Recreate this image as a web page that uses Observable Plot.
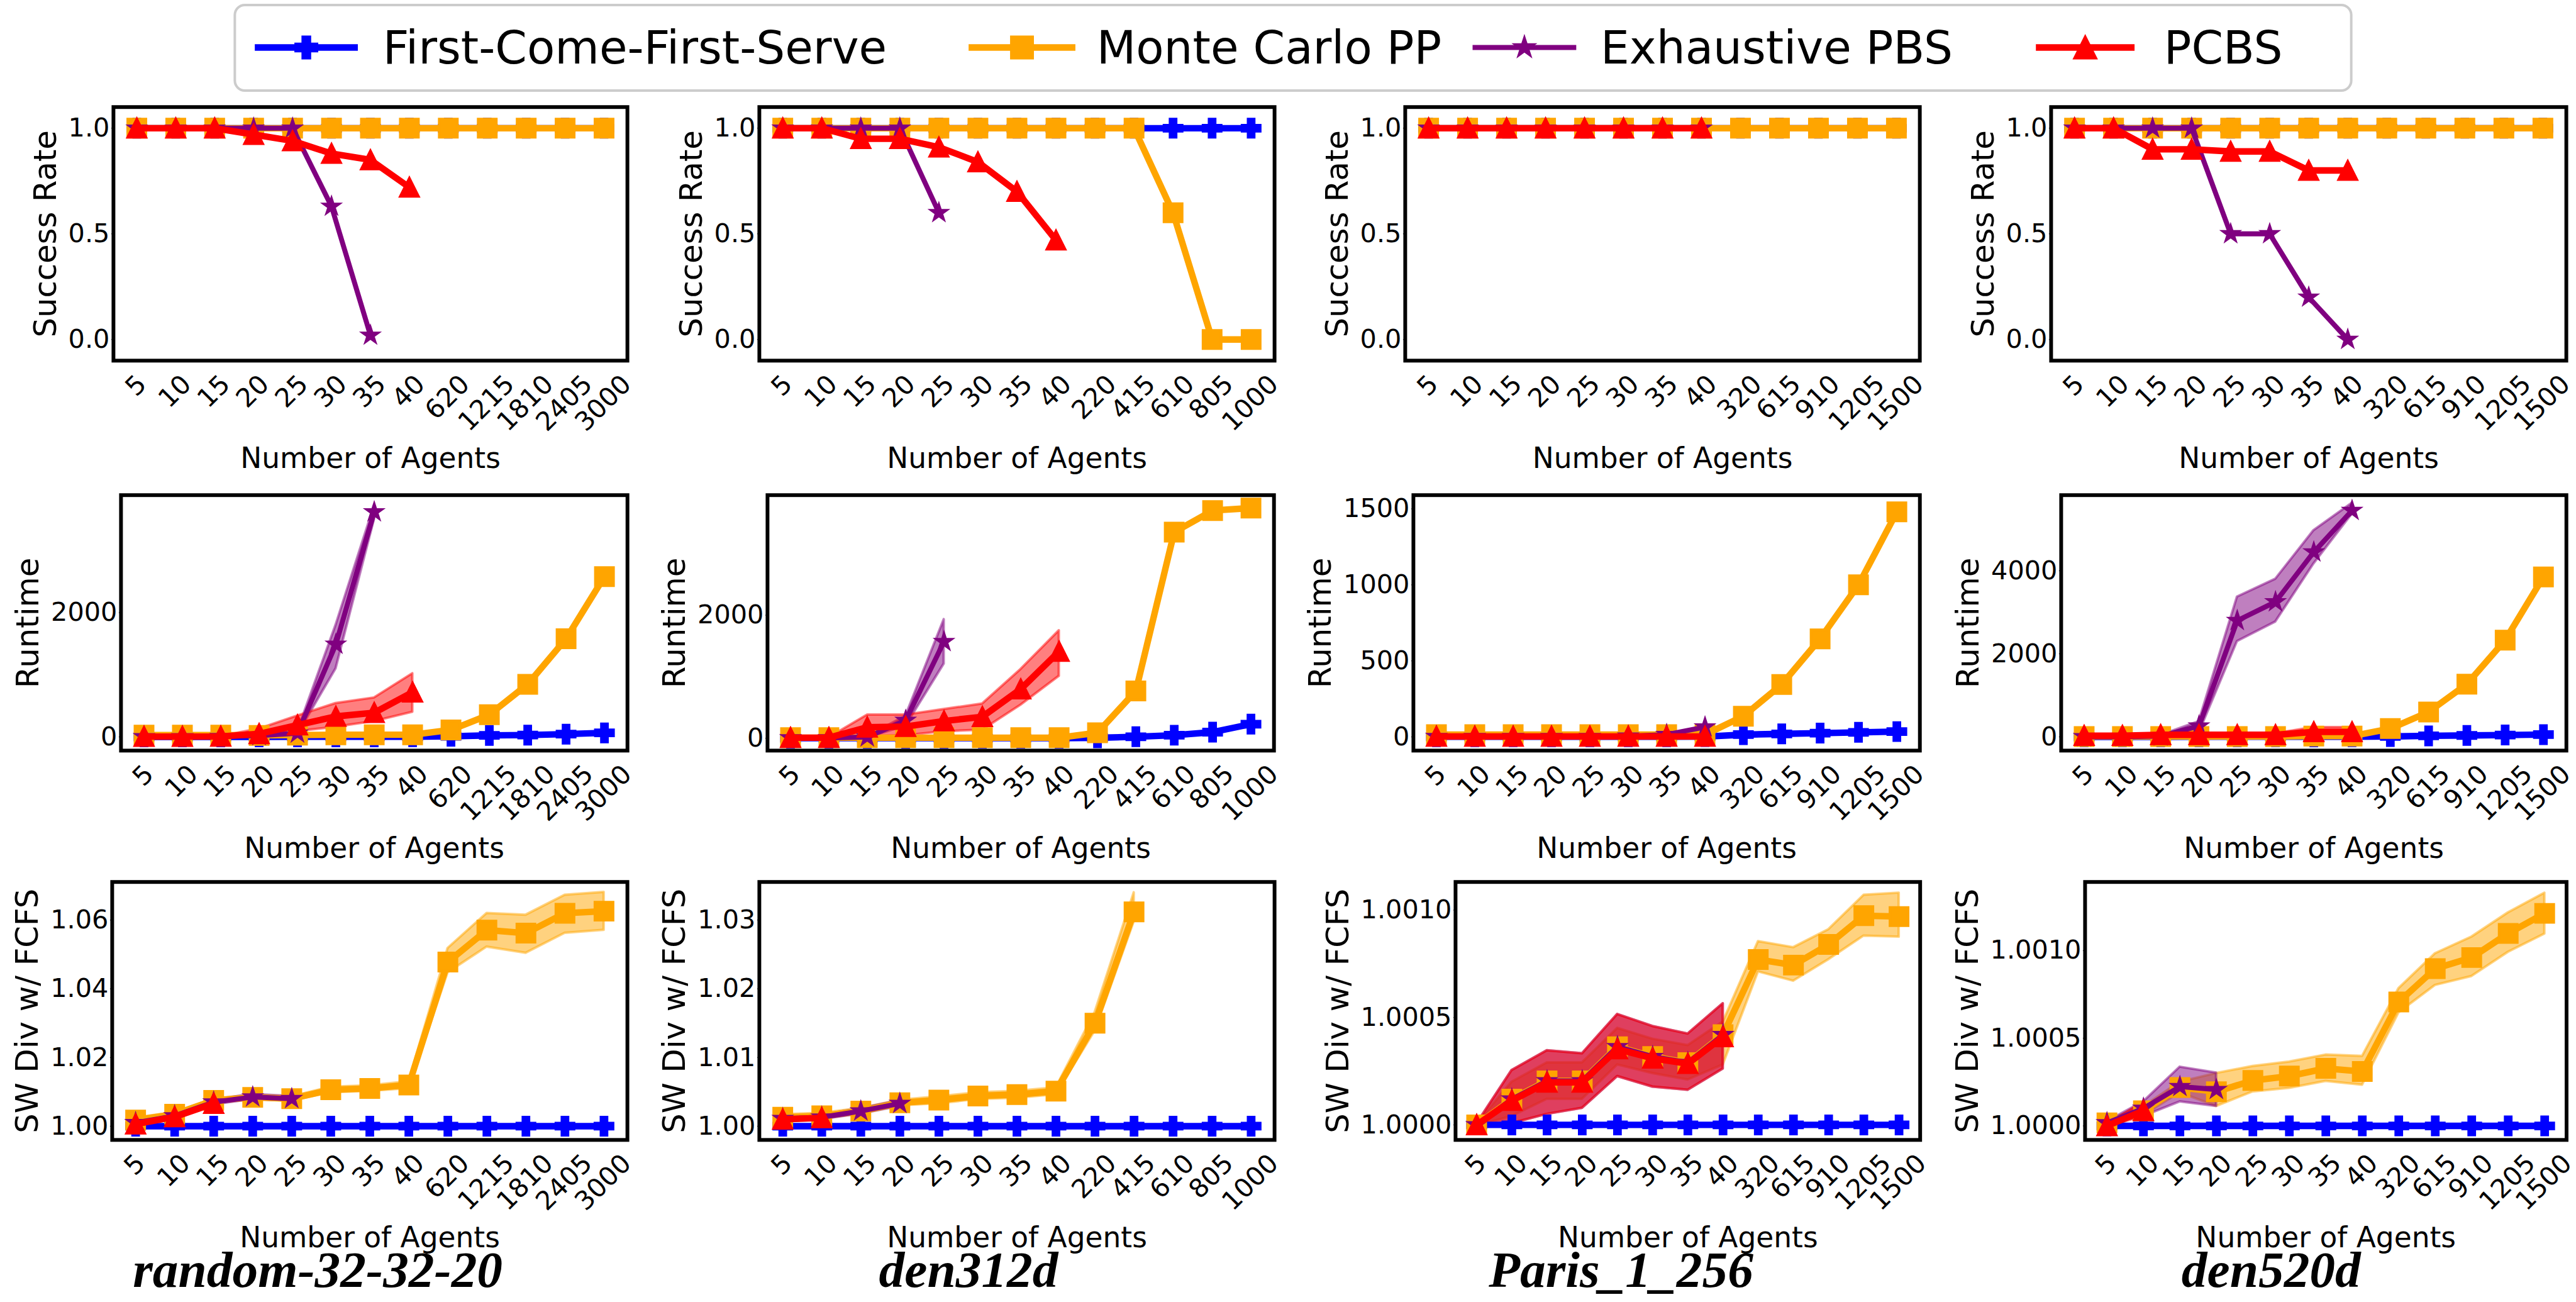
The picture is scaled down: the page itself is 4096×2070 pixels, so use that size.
<!DOCTYPE html>
<html>
<head>
<meta charset="utf-8">
<script src="https://cdn.jsdelivr.net/npm/d3@7"></script>
<script src="https://cdn.jsdelivr.net/npm/@observablehq/plot@0.6"></script>
<style>
html, body { margin:0; padding:0; background:#fff; }
#root { position:relative; width:4096px; height:2070px; overflow:hidden; background:#fff; font-family:"DejaVu Sans", sans-serif; }
#root svg { position:absolute; overflow:visible; max-width:none; }
</style>
</head>
<body>
<div id="root"></div>
<script>
// ================= DATA =================
const METHODS = ["First-Come-First-Serve", "Monte Carlo PP", "Exhaustive PBS", "PCBS"];
const MAPS = ["random-32-32-20", "den312d", "Paris_1_256", "den520d"];
const ROW_LABELS = ["Success Rate", "Runtime", "SW Div w/ FCFS"];
const X_LABEL = "Number of Agents";

const X_RANDOM = ["5","10","15","20","25","30","35","40","620","1215","1810","2405","3000"];
const X_DEN312D = ["5","10","15","20","25","30","35","40","220","415","610","805","1000"];
const X_PARIS = ["5","10","15","20","25","30","35","40","320","615","910","1205","1500"];
const X_DEN520D = ["5","10","15","20","25","30","35","40","320","615","910","1205","1500"];

// ---- Success rate ----
const SR_RANDOM_FCFS = [1,1,1,1,1,1,1,1,1,1,1,1,1];
const SR_RANDOM_MCPP = [1,1,1,1,1,1,1,1,1,1,1,1,1];
const SR_RANDOM_PBS  = [1,1,1,1,1,0.63,0.02];
const SR_RANDOM_PCBS = [1,1,1,0.97,0.94,0.88,0.85,0.72];

const SR_DEN312D_FCFS = [1,1,1,1,1,1,1,1,1,1,1,1,1];
const SR_DEN312D_MCPP = [1,1,1,1,1,1,1,1,1,1,0.6,0,0];
const SR_DEN312D_PBS  = [1,1,1,1,0.6];
const SR_DEN312D_PCBS = [1,1,0.95,0.95,0.91,0.84,0.70,0.47];

const SR_PARIS_FCFS = [1,1,1,1,1,1,1,1,1,1,1,1,1];
const SR_PARIS_MCPP = [1,1,1,1,1,1,1,1,1,1,1,1,1];
const SR_PARIS_PBS  = [1,1,1,1,1,1,1,1];
const SR_PARIS_PCBS = [1,1,1,1,1,1,1,1];

const SR_DEN520D_FCFS = [1,1,1,1,1,1,1,1,1,1,1,1,1];
const SR_DEN520D_MCPP = [1,1,1,1,1,1,1,1,1,1,1,1,1];
const SR_DEN520D_PBS  = [1,1,1,1,0.5,0.5,0.2,0.0];
const SR_DEN520D_PCBS = [1,1,0.9,0.9,0.89,0.89,0.8,0.8];

// ---- Runtime ----
const RT_RANDOM_FCFS = [1,1,1,1,2,2,2,3,10,25,30,45,65];
const RT_RANDOM_MCPP = [30,30,30,25,30,35,35,35,113,358,847,1580,2580];
const RT_RANDOM_PBS  = [1,2,5,20,60,1490,3620];
const RT_RANDOM_PBS_LO = [1,2,4,15,40,1100,3500];
const RT_RANDOM_PBS_HI = [1,2,6,25,90,1800,3720];
const RT_RANDOM_PCBS = [5,5,8,50,190,330,390,720];
const RT_RANDOM_PCBS_LO = [5,5,6,20,90,160,250,400];
const RT_RANDOM_PCBS_HI = [5,5,10,130,340,540,630,1020];

const RT_DEN312D_FCFS = [1,1,1,1,1,2,2,2,8,25,50,100,230];
const RT_DEN312D_MCPP = [10,10,10,10,10,10,10,10,90,770,3350,3700,3740];
const RT_DEN312D_PBS  = [5,5,20,290,1570];
const RT_DEN312D_PBS_LO = [5,5,10,200,1210];
const RT_DEN312D_PBS_HI = [5,5,30,360,1930];
const RT_DEN312D_PCBS = [10,10,180,190,280,350,800,1410];
const RT_DEN312D_PCBS_LO = [10,10,30,45,110,135,540,1010];
const RT_DEN312D_PCBS_HI = [10,10,380,380,470,560,1120,1750];

const RT_PARIS_FCFS = [1,1,1,1,1,1,1,2,15,20,25,30,35];
const RT_PARIS_MCPP = [15,15,15,15,15,15,15,15,136,345,645,1000,1480];
const RT_PARIS_PBS  = [2,2,2,2,2,5,15,65];
const RT_PARIS_PCBS = [3,3,3,3,3,3,3,3];

const RT_DEN520D_FCFS = [1,1,1,2,2,2,2,3,10,25,35,45,55];
const RT_DEN520D_MCPP = [10,10,10,10,10,10,20,20,200,600,1270,2330,3850];
const RT_DEN520D_PBS  = [1,2,20,260,2800,3250,4450,5450];
const RT_DEN520D_PBS_LO = [1,2,10,100,2300,2770,4170,5370];
const RT_DEN520D_PBS_HI = [1,2,40,370,3370,3800,4970,5630];
const RT_DEN520D_PCBS = [30,30,50,50,50,50,120,120];
const RT_DEN520D_PCBS_LO = [30,30,40,40,40,40,40,40];
const RT_DEN520D_PCBS_HI = [30,30,60,60,60,80,230,230];

// ---- Social welfare ratio ----
const SW_RANDOM_FCFS = [1,1,1,1,1,1,1,1,1,1,1,1,1];
const SW_RANDOM_MCPP = [1.0018,1.0035,1.0075,1.0084,1.008,1.0106,1.011,1.012,1.0478,1.0571,1.0562,1.062,1.0626];
const SW_RANDOM_MCPP_LO = [1.0012,1.003,1.007,1.0078,1.0074,1.0098,1.0102,1.011,1.0447,1.0522,1.0504,1.0562,1.0571];
const SW_RANDOM_MCPP_HI = [1.0024,1.004,1.008,1.009,1.0086,1.0114,1.0118,1.013,1.0518,1.062,1.0615,1.0673,1.0681];
const SW_RANDOM_PBS  = [1.001,1.003,1.007,1.0085,1.008];
const SW_RANDOM_PBS_LO = [1.0005,1.0025,1.0063,1.0078,1.0073];
const SW_RANDOM_PBS_HI = [1.0015,1.0037,1.0077,1.0093,1.0087];
const SW_RANDOM_PCBS = [1.0006,1.0027,1.0066];
const SW_RANDOM_PCBS_LO = [1.0002,1.002,1.006];
const SW_RANDOM_PCBS_HI = [1.001,1.0034,1.0072];

const SW_DEN312D_FCFS = [1,1,1,1,1,1,1,1,1,1,1,1,1];
const SW_DEN312D_MCPP = [1.0013,1.0015,1.0022,1.0034,1.0038,1.0044,1.0046,1.0051,1.015,1.0312];
const SW_DEN312D_MCPP_LO = [1.0009,1.0011,1.0018,1.003,1.0033,1.0039,1.0041,1.0046,1.0139,1.0298];
const SW_DEN312D_MCPP_HI = [1.0017,1.0019,1.0026,1.0038,1.0043,1.0049,1.0051,1.0056,1.0166,1.034];
const SW_DEN312D_PBS  = [1.0011,1.0013,1.0022,1.0033];
const SW_DEN312D_PBS_LO = [1.0008,1.001,1.0018,1.0029];
const SW_DEN312D_PBS_HI = [1.0014,1.0016,1.0026,1.0037];
const SW_DEN312D_PCBS = [1.001,1.0012];
const SW_DEN312D_PCBS_LO = [1.0007,1.0009];
const SW_DEN312D_PCBS_HI = [1.0013,1.0015];

const SW_PARIS_FCFS = [1,1,1,1,1,1,1,1,1,1,1,1,1];
const SW_PARIS_MCPP = [1.0,1.00012,1.000205,1.000205,1.000364,1.000318,1.00029,1.00042,1.00077,1.000744,1.00084,1.000974,1.00097];
const SW_PARIS_MCPP_LO = [0.999995,1.00004,1.00012,1.00012,1.00028,1.00024,1.00021,1.00028,1.000713,1.00067,1.00077,1.00088,1.000875];
const SW_PARIS_MCPP_HI = [1.000005,1.0002,1.00029,1.00029,1.00045,1.0004,1.00037,1.00048,1.000854,1.000826,1.00091,1.00107,1.00108];
const SW_PARIS_PBS  = [1.0,1.00012,1.000205,1.000205,1.000364,1.000318,1.00029,1.00042];
const SW_PARIS_PBS_LO = [0.999995,1.000007,1.00005,1.000078,1.000226,1.000177,1.000162,1.000261];
const SW_PARIS_PBS_HI = [1.000005,1.000254,1.000346,1.000332,1.000515,1.000459,1.000424,1.000565];
const SW_PARIS_PCBS = [1.0,1.000113,1.000198,1.000198,1.000353,1.00031,1.000285,1.00041];
const SW_PARIS_PCBS_LO = [0.999995,1.000007,1.00005,1.000078,1.000226,1.000177,1.000162,1.000261];
const SW_PARIS_PCBS_HI = [1.000005,1.000254,1.000346,1.000332,1.000515,1.000459,1.000424,1.000565];

const SW_DEN520D_FCFS = [1,1,1,1,1,1,1,1,1,1,1,1,1];
const SW_DEN520D_MCPP = [1.000017,1.000086,1.000219,1.000195,1.000259,1.000284,1.000328,1.00031,1.000707,1.000897,1.00096,1.001098,1.001212];
const SW_DEN520D_MCPP_LO = [1.000005,1.00006,1.00019,1.000112,1.000195,1.000215,1.000255,1.000233,1.000646,1.000802,1.000853,1.000991,1.001095];
const SW_DEN520D_MCPP_HI = [1.00003,1.00011,1.00025,1.0003,1.00034,1.000365,1.000405,1.000397,1.000784,1.000983,1.001078,1.001216,1.001328];
const SW_DEN520D_PBS  = [1.000017,1.0001,1.000224,1.000207];
const SW_DEN520D_PBS_LO = [1.00001,1.000055,1.000138,1.000112];
const SW_DEN520D_PBS_HI = [1.000025,1.000138,1.000336,1.000302];
const SW_DEN520D_PCBS = [1.0,1.000086];
const SW_DEN520D_PCBS_LO = [0.999995,1.000055];
const SW_DEN520D_PCBS_HI = [1.000005,1.000138];

// ---- axis ticks ----
const SR_TICKS = [0, 0.5, 1.0];
const RT_TICKS_RANDOM = [0, 2000];
const RT_TICKS_DEN312D = [0, 2000];
const RT_TICKS_PARIS = [0, 500, 1000, 1500];
const RT_TICKS_DEN520D = [0, 2000, 4000];
const SW_TICKS_RANDOM = [1.00, 1.02, 1.04, 1.06];
const SW_TICKS_DEN312D = [1.00, 1.01, 1.02, 1.03];
const SW_TICKS_PARIS = [1.0000, 1.0005, 1.0010];
const SW_TICKS_DEN520D = [1.0000, 1.0005, 1.0010];

// ================= STYLE / LAYOUT =================
const s = 0.993;
const FS_TICK = 41.7, FS_XLAB = 45.8, FS_YLAB = 50, FS_TITLE = 82, FS_LEG = 73;

function sym(fn) { return { draw(ctx, size) { fn(ctx, Math.sqrt(size / Math.PI)); } }; }
const SYM_PLUS = sym((ctx, r) => {
  const a = r / 3;
  const P = [[-1,-3],[1,-3],[1,-1],[3,-1],[3,1],[1,1],[1,3],[-1,3],[-1,1],[-3,1],[-3,-1],[-1,-1]];
  ctx.moveTo(P[0][0]*a, P[0][1]*a);
  for (let k = 1; k < P.length; k++) ctx.lineTo(P[k][0]*a, P[k][1]*a);
  ctx.closePath();
});
const SYM_SQUARE = sym((ctx, r) => { ctx.moveTo(-r,-r); ctx.lineTo(r,-r); ctx.lineTo(r,r); ctx.lineTo(-r,r); ctx.closePath(); });
const SYM_TRI = sym((ctx, r) => { ctx.moveTo(0,-r); ctx.lineTo(r,r); ctx.lineTo(-r,r); ctx.closePath(); });
const SYM_STAR = sym((ctx, R) => {
  for (let k = 0; k < 10; k++) {
    const a = -Math.PI/2 + k*Math.PI/5, rr = k % 2 === 0 ? R : R*0.381966;
    const x = rr*Math.cos(a), y = rr*Math.sin(a);
    if (k === 0) ctx.moveTo(x, y); else ctx.lineTo(x, y);
  }
  ctx.closePath();
});

const STYLE = [
  {color: "blue",   lw: 10.4, sym: SYM_PLUS,   r: 14.5},
  {color: "orange", lw: 10.4, sym: SYM_SQUARE, r: 14.5},
  {color: "purple", lw: 8,    sym: SYM_STAR,   r: 12.5},
  {color: "red",    lw: 10.4, sym: SYM_TRI,    r: 14.5}
];
const MARKER_EDGE = 4.2;

const ROW_Y = [[171,577],[792,1201],[1412,1825]];
const COL_X = [
  [[181,1004],[1215,2040],[2250,3074],[3284,4109]],
  [[193,1004],[1229,2040],[2263,3074],[3300,4109]],
  [[179,1004],[1215,2040],[2330,3074],[3338,4109]]
];
const TITLE_CX = [508, 1550, 2595, 3636];
const TITLE_BASE = 2060;

const fmt1 = d => d.toFixed(1), fmt0 = d => String(d), fmt2 = d => d.toFixed(2), fmt4 = d => d.toFixed(4);

const PANELS = [
  {row:0,col:0,x:X_RANDOM, yd:[-0.1,1.1], yt:SR_TICKS, fmt:fmt1, v:[SR_RANDOM_FCFS,SR_RANDOM_MCPP,SR_RANDOM_PBS,SR_RANDOM_PCBS], lo:[], hi:[]},
  {row:0,col:1,x:X_DEN312D, yd:[-0.1,1.1], yt:SR_TICKS, fmt:fmt1, v:[SR_DEN312D_FCFS,SR_DEN312D_MCPP,SR_DEN312D_PBS,SR_DEN312D_PCBS], lo:[], hi:[]},
  {row:0,col:2,x:X_PARIS, yd:[-0.1,1.1], yt:SR_TICKS, fmt:fmt1, v:[SR_PARIS_FCFS,SR_PARIS_MCPP,SR_PARIS_PBS,SR_PARIS_PCBS], lo:[], hi:[]},
  {row:0,col:3,x:X_DEN520D, yd:[-0.1,1.1], yt:SR_TICKS, fmt:fmt1, v:[SR_DEN520D_FCFS,SR_DEN520D_MCPP,SR_DEN520D_PBS,SR_DEN520D_PCBS], lo:[], hi:[]},
  {row:1,col:0,x:X_RANDOM, yd:[-220,3890], yt:RT_TICKS_RANDOM, fmt:fmt0, v:[RT_RANDOM_FCFS,RT_RANDOM_MCPP,RT_RANDOM_PBS,RT_RANDOM_PCBS], lo:[null,null,RT_RANDOM_PBS_LO,RT_RANDOM_PCBS_LO], hi:[null,null,RT_RANDOM_PBS_HI,RT_RANDOM_PCBS_HI]},
  {row:1,col:1,x:X_DEN312D, yd:[-200,3950], yt:RT_TICKS_DEN312D, fmt:fmt0, v:[RT_DEN312D_FCFS,RT_DEN312D_MCPP,RT_DEN312D_PBS,RT_DEN312D_PCBS], lo:[null,null,RT_DEN312D_PBS_LO,RT_DEN312D_PCBS_LO], hi:[null,null,RT_DEN312D_PBS_HI,RT_DEN312D_PCBS_HI]},
  {row:1,col:2,x:X_PARIS, yd:[-90,1590], yt:RT_TICKS_PARIS, fmt:fmt0, v:[RT_PARIS_FCFS,RT_PARIS_MCPP,RT_PARIS_PBS,RT_PARIS_PCBS], lo:[], hi:[]},
  {row:1,col:3,x:X_DEN520D, yd:[-330,5820], yt:RT_TICKS_DEN520D, fmt:fmt0, v:[RT_DEN520D_FCFS,RT_DEN520D_MCPP,RT_DEN520D_PBS,RT_DEN520D_PCBS], lo:[null,null,RT_DEN520D_PBS_LO,RT_DEN520D_PCBS_LO], hi:[null,null,RT_DEN520D_PBS_HI,RT_DEN520D_PCBS_HI]},
  {row:2,col:0,x:X_RANDOM, yd:[0.996,1.0711], yt:SW_TICKS_RANDOM, fmt:fmt2, v:[SW_RANDOM_FCFS,SW_RANDOM_MCPP,SW_RANDOM_PBS,SW_RANDOM_PCBS], lo:[null,SW_RANDOM_MCPP_LO,SW_RANDOM_PBS_LO,SW_RANDOM_PCBS_LO], hi:[null,SW_RANDOM_MCPP_HI,SW_RANDOM_PBS_HI,SW_RANDOM_PCBS_HI]},
  {row:2,col:1,x:X_DEN312D, yd:[0.998,1.03555], yt:SW_TICKS_DEN312D, fmt:fmt2, v:[SW_DEN312D_FCFS,SW_DEN312D_MCPP,SW_DEN312D_PBS,SW_DEN312D_PCBS], lo:[null,SW_DEN312D_MCPP_LO,SW_DEN312D_PBS_LO,SW_DEN312D_PCBS_LO], hi:[null,SW_DEN312D_MCPP_HI,SW_DEN312D_PBS_HI,SW_DEN312D_PCBS_HI]},
  {row:2,col:2,x:X_PARIS, yd:[0.99993,1.001131], yt:SW_TICKS_PARIS, fmt:fmt4, v:[SW_PARIS_FCFS,SW_PARIS_MCPP,SW_PARIS_PBS,SW_PARIS_PCBS], lo:[null,SW_PARIS_MCPP_LO,SW_PARIS_PBS_LO,SW_PARIS_PCBS_LO], hi:[null,SW_PARIS_MCPP_HI,SW_PARIS_PBS_HI,SW_PARIS_PCBS_HI]},
  {row:2,col:3,x:X_DEN520D, yd:[0.99992,1.001391], yt:SW_TICKS_DEN520D, fmt:fmt4, v:[SW_DEN520D_FCFS,SW_DEN520D_MCPP,SW_DEN520D_PBS,SW_DEN520D_PCBS], lo:[null,SW_DEN520D_MCPP_LO,SW_DEN520D_PBS_LO,SW_DEN520D_PCBS_LO], hi:[null,SW_DEN520D_MCPP_HI,SW_DEN520D_PBS_HI,SW_DEN520D_PCBS_HI]}
];

const root = document.getElementById("root");
const textW = (str) => { let w = 0; for (const c of str) w += (c === "." ? 0.318 : 0.636); return w * FS_TICK; };

function drawPanel(p) {
  const ML = 300, MR = 40, MT = 40, MB = 300;
  const [fx0, fx1] = COL_X[p.row][p.col];
  const [fy0, fy1] = ROW_Y[p.row];
  const W = fx1 - fx0, H = fy1 - fy0;
  const n = p.x.length;
  const rows = [];
  p.v.forEach((vals, m) => vals.forEach((v, i) => {
    if (v == null) return;
    rows.push({m, i, v, lo: p.lo[m] ? p.lo[m][i] : null, hi: p.hi[m] ? p.hi[m][i] : null});
  }));
  const marks = [];
  STYLE.forEach((st, m) => {
    if (!p.lo[m]) return;
    marks.push(Plot.areaY(rows.filter(d => d.m === m && d.lo != null), {
      x: "i", y1: "lo", y2: "hi", fill: st.color, fillOpacity: 0.5,
      stroke: st.color, strokeOpacity: 0.5, strokeWidth: 4 * s
    }));
  });
  STYLE.forEach((st, m) => {
    const dm = rows.filter(d => d.m === m);
    marks.push(Plot.line(dm, {x: "i", y: "v", stroke: st.color, strokeWidth: st.lw * s}));
    marks.push(Plot.dot(dm, {x: "i", y: "v", fill: st.color, stroke: st.color, strokeWidth: MARKER_EDGE * s, r: st.r * s, symbol: st.sym}));
  });
  marks.push(Plot.frame({stroke: "black", strokeWidth: 6 * s}));
  marks.push(Plot.axisY(p.yt, {tickSize: 3 * s, tickPadding: 3 * s, fontSize: FS_TICK * s, tickFormat: p.fmt, label: null}));
  marks.push(Plot.axisX(d3.range(n), {tickSize: 3 * s, tickFormat: () => "", label: null}));
  const xl = p.x.map((t, i) => ({i, t}));
  for (const [len, g] of d3.groups(xl, d => d.t.length)) {
    const wInk = (len * 0.636 - 0.08) * FS_TICK;
    marks.push(Plot.text(g, {
      x: "i", text: "t", frameAnchor: "bottom", rotate: -45, textAnchor: "end", lineAnchor: "middle",
      fontSize: FS_TICK * s, dx: wInk * 0.3536 * s, dy: (20 + 0.729 * FS_TICK * 0.3536) * s
    }));
  }
  marks.push(Plot.text([X_LABEL], {frameAnchor: "bottom", lineAnchor: "bottom", dy: 172 * s, fontSize: FS_XLAB * s}));
  const off = 42 + d3.max(p.yt, t => textW(p.fmt(t)));
  marks.push(Plot.text([ROW_LABELS[p.row]], {frameAnchor: "left", rotate: -90, dx: -off * s, textAnchor: "middle", lineAnchor: "middle", fontSize: FS_YLAB * s}));
  if (p.row === 2) {
    marks.push(Plot.text([MAPS[p.col]], {
      frameAnchor: "bottom", lineAnchor: "bottom", dy: (TITLE_BASE - fy1) * s, dx: (TITLE_CX[p.col] - (fx0 + fx1) / 2) * s,
      fontSize: FS_TITLE * s, fontFamily: "Liberation Serif", fontWeight: "bold", fontStyle: "italic"
    }));
  }
  const svg = Plot.plot({
    width: (W + ML + MR) * s, height: (H + MT + MB) * s,
    marginLeft: ML * s, marginRight: MR * s, marginTop: MT * s, marginBottom: MB * s,
    x: {type: "linear", domain: [-0.6, n - 1 + 0.6], label: null},
    y: {domain: p.yd, label: null},
    style: {fontFamily: "DejaVu Sans", color: "black", background: "transparent", overflow: "visible"},
    marks
  });
  svg.style.position = "absolute";
  svg.style.left = ((fx0 - ML) * s) + "px";
  svg.style.top = ((fy0 - MT) * s) + "px";
  root.appendChild(svg);
}
PANELS.forEach(drawPanel);

// ================= LEGEND =================
const LEG_BOX = [376, 8, 3765, 145];
const LEG_ITEMS = [[408, 573, 613], [1551, 1722, 1756], [2358, 2524, 2563], [3260, 3418, 3465]];
const legY = 76;
const leg = d3.create("svg").attr("width", 4096).attr("height", 170)
  .style("left", "0px").style("top", "0px");
leg.append("rect")
  .attr("x", LEG_BOX[0] * s).attr("y", LEG_BOX[1] * s)
  .attr("width", (LEG_BOX[2] - LEG_BOX[0]) * s).attr("height", (LEG_BOX[3] - LEG_BOX[1]) * s)
  .attr("rx", 16 * s).attr("fill", "white").attr("stroke", "#cccccc").attr("stroke-width", 4 * s);
METHODS.forEach((name, m) => {
  const [a, b, t] = LEG_ITEMS[m];
  const st = STYLE[m];
  const g = leg.append("g");
  g.append("line").attr("x1", a * s).attr("x2", b * s).attr("y1", legY * s).attr("y2", legY * s)
    .attr("stroke", st.color).attr("stroke-width", st.lw * s);
  const rr = (m === 2 ? 15 : 17) * s;
  g.append("path").attr("transform", `translate(${(a + b) / 2 * s},${legY * s})`)
    .attr("d", d3.symbol(st.sym, Math.PI * rr * rr)())
    .attr("fill", st.color).attr("stroke", st.color).attr("stroke-width", MARKER_EDGE * s);
  g.append("text").attr("x", t * s).attr("y", legY * s).attr("dy", "0.35em")
    .attr("font-family", "DejaVu Sans").attr("font-size", FS_LEG * s).attr("fill", "black").text(name);
});
root.appendChild(leg.node());
</script>
</body>
</html>
